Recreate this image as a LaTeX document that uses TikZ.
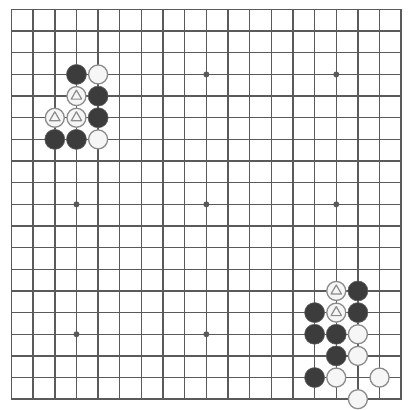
\documentclass[tikz,border=0pt]{standalone}
\definecolor{linec}{HTML}{5A5A5A}
\definecolor{blackst}{HTML}{3C3C3C}
\definecolor{whiteln}{HTML}{8C8C8C}
\definecolor{whitefl}{HTML}{F6F6F6}
\tikzset{
  gridline/.style={draw=linec,line width=1.4pt},
  border/.style={draw=linec,line width=1.7pt},
  starpt/.style={circle,fill=linec,inner sep=0pt,minimum size=6pt},
  bstone/.style={circle,fill=blackst,draw=blackst!80,line width=0.6pt,inner sep=0pt,minimum size=20pt},
  wstone/.style={circle,fill=whitefl,draw=whiteln,line width=1.3pt,inner sep=0pt,minimum size=19pt},
  wtri/.style={wstone,path picture={
    \draw[whiteln,line width=1.2pt,line join=round]
      ([shift={(90:6pt)}]path picture bounding box.center) --
      ([shift={(210:6pt)}]path picture bounding box.center) --
      ([shift={(330:6pt)}]path picture bounding box.center) -- cycle;}}
}
\begin{document}
\begin{tikzpicture}[x=21.65pt,y=-21.65pt]
\useasboundingbox[fill=white] (-11.5pt,9.5pt) rectangle (399.5pt,-399.5pt);
% board
\foreach \i in {1,...,17}{
  \draw[gridline] (\i,0) -- (\i,18);
  \draw[gridline] (0,\i) -- (18,\i);
}
\draw[border] (0,0) rectangle (18,18);
% star points
\foreach \c/\r [count=\k] in {3/3,9/3,15/3,3/9,9/9,15/9,3/15,9/15,15/15}
  \node[starpt] (s\k) at (\c,\r) {};
% top-left group
\node[bstone] (tb1) at (3,3) {};
\node[wstone] (tw1) at (4,3) {};
\node[wtri]   (tt1) at (3,4) {};
\node[bstone] (tb2) at (4,4) {};
\node[wtri]   (tt2) at (2,5) {};
\node[wtri]   (tt3) at (3,5) {};
\node[bstone] (tb3) at (4,5) {};
\node[bstone] (tb4) at (2,6) {};
\node[bstone] (tb5) at (3,6) {};
\node[wstone] (tw2) at (4,6) {};
% bottom-right group
\node[wtri]   (bt1) at (15,13) {};
\node[bstone] (bb1) at (16,13) {};
\node[bstone] (bb2) at (14,14) {};
\node[wtri]   (bt2) at (15,14) {};
\node[bstone] (bb3) at (16,14) {};
\node[bstone] (bb4) at (14,15) {};
\node[bstone] (bb5) at (15,15) {};
\node[wstone] (bw1) at (16,15) {};
\node[bstone] (bb6) at (15,16) {};
\node[wstone] (bw2) at (16,16) {};
\node[bstone] (bb7) at (14,17) {};
\node[wstone] (bw3) at (15,17) {};
\node[wstone] (bw4) at (17,17) {};
\node[wstone] (bw5) at (16,18) {};
\end{tikzpicture}
\end{document}
